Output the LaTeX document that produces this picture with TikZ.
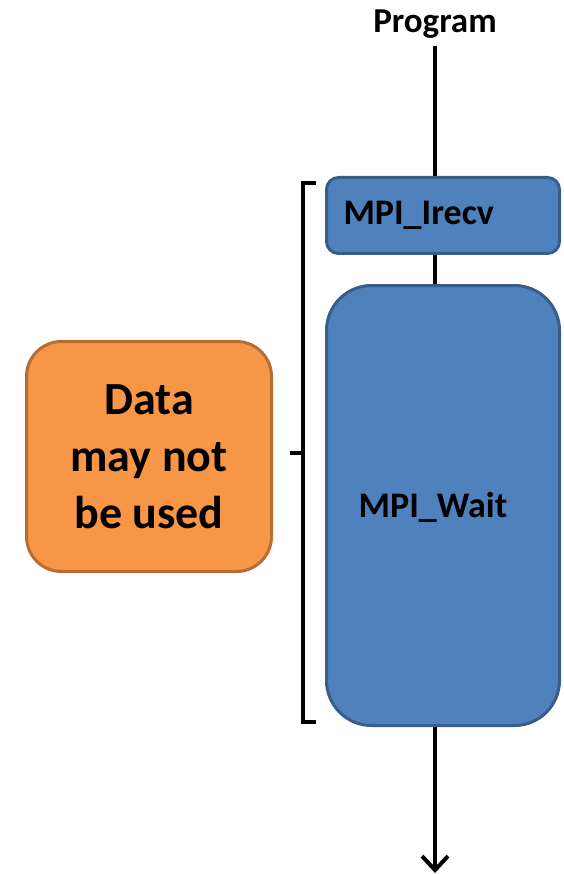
\documentclass[tikz,border=0pt]{standalone}
\usepackage{fontspec}
\setmainfont{Carlito}
\usetikzlibrary{arrows.meta}
\definecolor{boxblue}{HTML}{4F81BD}
\definecolor{boxblueline}{HTML}{385D8A}
\definecolor{boxorange}{HTML}{F79646}
\definecolor{boxorangeline}{HTML}{B66D31}
\tikzset{
  callbox/.style={draw=boxblueline, fill=boxblue, line width=3pt,
    font=\bfseries\fontsize{36}{43}\selectfont},
  flow/.style={line width=4pt, black},
  bracketline/.style={line width=4pt, black, line cap=butt},
}
\begin{document}
\begin{tikzpicture}[x=1pt,y=-1pt]
\useasboundingbox (0,0) rectangle (563,874);
% program label
\node[font=\bfseries\fontsize{35}{42}\selectfont, anchor=center] (prog) at (435,24) {Program};
% call boxes
\node[callbox, rounded corners=12pt, minimum width=233pt, minimum height=76pt,
  anchor=north west, text width=199pt, align=left, inner xsep=17pt] (irecv) at (325,176) {MPI\_Irecv};
\node[callbox, rounded corners=45pt, minimum width=233pt, minimum height=440pt,
  anchor=north west] (wait) at (325,284) {};
\node[font=\bfseries\fontsize{36}{43}\selectfont] (waitlabel) at (433,507) {MPI\_Wait};
% note box
\node[draw=boxorangeline, fill=boxorange, line width=3pt, rounded corners=35pt,
  minimum width=245pt, minimum height=230pt, anchor=north west, align=center,
  font=\bfseries\fontsize{46}{57}\selectfont] (note) at (25,340) {Data\\may not\\be used};
% program flow
\coordinate (end) at (435,873);
\path (prog.south) ++(0,-4pt) coordinate (start);
\draw[flow] (start) -- (start |- irecv.north);
\draw[flow] (irecv.south -| start) -- (start |- wait.north);
\draw[flow, -{Straight Barb[length=14pt,width=26pt,line width=4pt]}] (wait.south -| start) -- (end);
% bracket spanning the two calls
\coordinate (btop) at (303,183);
\coordinate (bbot) at (303,722);
\coordinate (bmid) at (303,453);
\draw[bracketline] ([xshift=13pt]btop) -- (btop) -- (bbot) -- ([xshift=13pt]bbot);
\draw[bracketline] (bmid) -- ++(-13pt,0);
\end{tikzpicture}
\end{document}
